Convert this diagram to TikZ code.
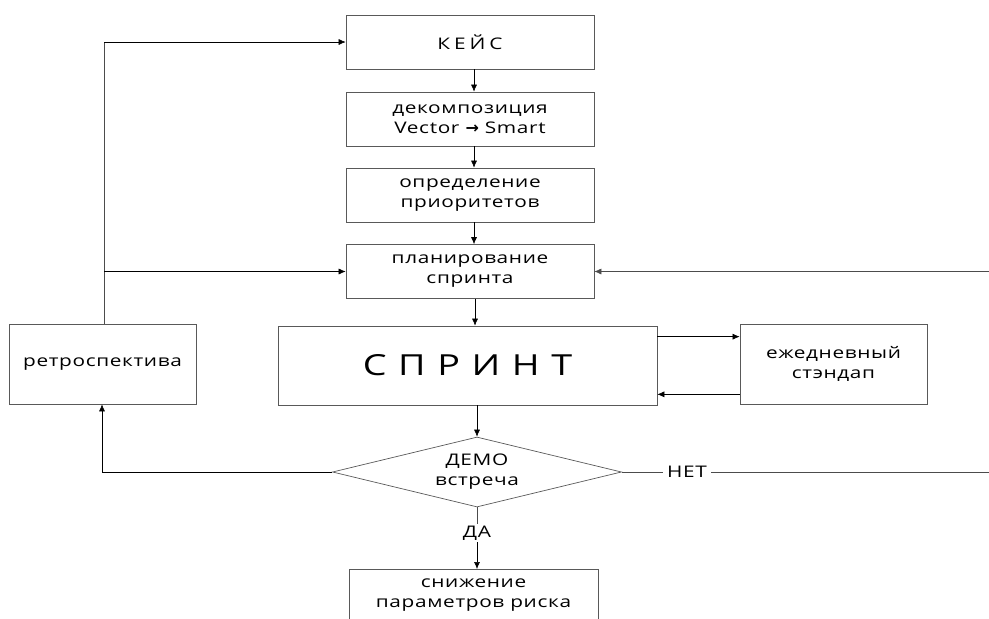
\documentclass[tikz,border=0pt]{standalone}
\usepackage{fontspec}
\setmainfont{Open Sans}[FakeStretch=1.3, LetterSpace=4]
\newfontfamily\symb{DejaVu Sans}
\usetikzlibrary{positioning, arrows, arrows.meta, shapes.geometric}

\tikzset{
  bloc/.style={draw=gray!70!black, line width=0.7pt, minimum width=248pt, minimum height=54pt, align=center, font=\fontsize{16}{20}\selectfont},
  fl/.style={->,>={Latex[length=7pt,width=6pt]}, line width=0.6pt},
  ln/.style={line width=0.6pt, draw=gray!60!black}
}

\begin{document}
\begin{tikzpicture}[x=1pt,y=-1pt]
\useasboundingbox (0,0) rectangle (989,619);
\clip (0,0) rectangle (989,619);

\node[bloc] (keis) at (470,42) {К\hspace{0.25em}Е\hspace{0.25em}Й\hspace{0.25em}С};%les blocs
\node[bloc] (decomp) at (470,119) {декомпозиция\\Vector {\symb\bfseries →} Smart};
\node[bloc] (prior) at (470,195) {определение\\приоритетов};
\node[bloc] (plan) at (470,271.5) {планирование\\спринта};
\node[bloc, minimum width=379pt, minimum height=79pt, font=\fontsize{29}{34}\selectfont] (sprint) at (467.5,365.5) {С\hspace{0.4em}П\hspace{0.4em}Р\hspace{0.4em}И\hspace{0.4em}Н\hspace{0.4em}Т};
\node[bloc, minimum width=187pt, minimum height=80pt] (stand) at (833.5,364) {ежедневный\\стэндап};
\node[bloc, minimum width=187pt, minimum height=80pt] (retro) at (102.5,364) {ретроспектива};
\node[bloc, diamond, aspect=4.1, minimum width=289pt, minimum height=70pt, inner sep=0pt] (demo) at (477,472) {ДЕМО\\встреча};
\node[font=\fontsize{16}{20}\selectfont, fill=white, inner sep=2pt] (da) at (477,533) {ДА};
\node[font=\fontsize{16}{20}\selectfont, inner sep=4pt] (net) at (687,472) {НЕТ};
\node[bloc, anchor=north, minimum width=249pt, minimum height=52pt] (snizh) at (473.5,569) {снижение\\параметров риска};

\coordinate (retroup) at (104,42);
\coordinate (retrobr) at (104,271.5);
\coordinate (bordbas) at (989,472);
\coordinate (bordhaut) at (989,271.5);
\coordinate (demog) at (102,472);

%les fleches
\draw[fl] (keis.south -| 474,0) -- (decomp.north -| 474,0);
\draw[fl] (decomp.south -| 474,0) -- (prior.north -| 474,0);
\draw[fl] (prior.south -| 474,0) -- (plan.north -| 474,0);
\draw[fl] (plan.south -| 475,0) -- (sprint.north -| 475,0);
\draw[fl] (sprint.south -| 477,0) -- (demo.north);
\draw[fl] ([yshift=-11pt]sprint.north east) -- ([yshift=-11pt]sprint.north east -| stand.west);
\draw[fl] ([yshift=10pt]stand.south west) -- ([yshift=10pt]stand.south west -| sprint.east);

\draw[ln] (demo.south) -- (da.north);
\draw[fl] (da.south) -- (snizh.north -| da.south);

\draw[ln] (demo.east) -- (net.west);
\draw[ln] (net.east) -- (bordbas);
\draw[fl, draw=gray!60!black] (bordhaut) -- (plan.east);

\draw[fl] (demo.west) -- (demog) -- (retro.south -| demog);
\draw[ln] (retro.north -| retroup) -- (retroup);
\draw[fl] (retroup) -- (keis.west);
\draw[fl] (retrobr) -- (plan.west);
\end{tikzpicture}
\end{document}
